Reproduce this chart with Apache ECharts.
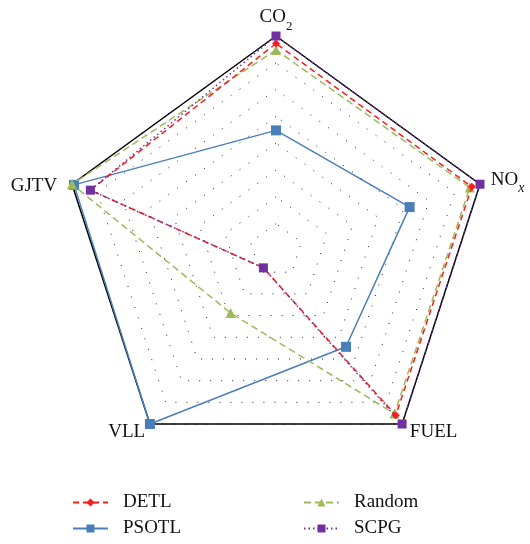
<!DOCTYPE html>
<html>
<head>
<meta charset="utf-8">
<script src="https://cdn.jsdelivr.net/npm/echarts@6/dist/echarts.min.js"></script>
<style>html,body{margin:0;padding:0;background:#fff;}#c{width:530px;height:544px;}</style>
</head>
<body>
<div id="c"></div>
<script>
// Indicators in ECharts order (counter-clockwise from top)
const indicators = ['CO2', 'GJTV', 'VLL', 'FUEL', 'NOx'];
const seriesNames = ['DETL', 'PSOTL', 'Random', 'SCPG'];
// values in order: CO2, GJTV, VLL, FUEL, NOx
const detl   = [0.965, 0.91, 0.10, 0.95, 0.96];
const psotl  = [0.56, 0.99, 1.00, 0.555, 0.655];
const random = [0.935, 1.00, 0.36, 0.94, 0.95];
const scpg   = [1.00, 0.91, 0.10, 1.00, 1.00];

const serif = '"Liberation Serif", "DejaVu Serif", serif';
const chart = echarts.init(document.getElementById('c'), null, {renderer: 'canvas'});

const base = {fontFamily: serif, fontSize: 19, color: '#111'};
const nameRich = {
  n: Object.assign({}, base, {verticalAlign: 'bottom', padding: [0, 0, 6, 0]}),
  s: {fontFamily: serif, fontSize: 13, color: '#111', verticalAlign: 'bottom'},
  si: {fontFamily: serif, fontSize: 14, fontStyle: 'italic', color: '#111', verticalAlign: 'bottom'},
  nl: Object.assign({}, base, {verticalAlign: 'bottom', padding: [0, 0, 6, 8]}),
  g: Object.assign({}, base, {padding: [6, 12, 0, 0]}),
  bv: Object.assign({}, base, {padding: [11, 3, 0, 0]}),
  bf: Object.assign({}, base, {padding: [11, 0, 0, 6]})
};
function fmtName(v) {
  if (v === 'CO2') return '{n|CO}{s|2}';
  if (v === 'NOx') return '{nl|NO}{si|x}';
  if (v === 'GJTV') return '{g|GJTV}';
  if (v === 'VLL') return '{bv|VLL}';
  return '{bf|FUEL}';
}

const center = [276, 250.5];
const radius = 214.5;

const styles = {
  DETL:   {color: '#ff1a1a', type: [6, 4], symbol: 'diamond', size: 8, z: 4, data: detl},
  PSOTL:  {color: '#4a7ebb', type: 'solid', symbol: 'rect', size: 10, z: 2, data: psotl},
  Random: {color: '#9bbb59', type: [7, 4], symbol: 'triangle', size: 10, z: 3, data: random},
  SCPG:   {color: '#7030a0', type: [1.5, 3], symbol: 'rect', size: 9, z: 5, data: scpg}
};

// hidden line series used only for legend icons (line + marker)
const legendSeries = seriesNames.map(n => ({
  type: 'line', name: n, data: [], xAxisIndex: 0, yAxisIndex: 0,
  symbol: styles[n].symbol, symbolSize: styles[n].size,
  lineStyle: {color: styles[n].color, type: styles[n].type, width: 1.5},
  itemStyle: {color: styles[n].color}
}));
const radarSeries = ['PSOTL', 'Random', 'DETL', 'SCPG'].map(n => ({
  type: 'radar', name: n, radarIndex: 0, z: styles[n].z,
  symbol: styles[n].symbol, symbolSize: styles[n].size,
  lineStyle: {color: styles[n].color, type: styles[n].type, width: 1.5},
  itemStyle: {color: styles[n].color},
  data: [{value: styles[n].data, name: n}]
}));

const legendPos = {DETL: [72, 493], PSOTL: [72, 519], Random: [303, 493], SCPG: [303, 519]};

chart.setOption({
  animation: false,
  grid: {left: 0, top: 0, width: 1, height: 1, show: false},
  xAxis: {show: false, type: 'value'},
  yAxis: {show: false, type: 'value'},
  radar: [
    {
      center: center, radius: radius, startAngle: 90, shape: 'polygon', splitNumber: 8,
      indicator: indicators.map(n => ({name: n, min: 0, max: 1})),
      axisName: {formatter: fmtName, rich: nameRich, color: '#111', fontFamily: serif, fontSize: 19},
      nameGap: 3,
      axisLine: {show: false}, axisTick: {show: false}, axisLabel: {show: false},
      splitArea: {show: false},
      splitLine: {lineStyle: {color: '#222', type: [1, 10], width: 1}}
    },
    {
      center: center, radius: radius, startAngle: 90, shape: 'polygon', splitNumber: 1,
      indicator: indicators.map(n => ({name: '', min: 0, max: 1})),
      axisName: {show: false},
      axisLine: {show: false}, axisTick: {show: false}, axisLabel: {show: false},
      splitArea: {show: false},
      splitLine: {lineStyle: {color: '#000', type: 'solid', width: 1.5}}
    }
  ],
  legend: seriesNames.map(n => ({
    data: [n], orient: 'horizontal', left: legendPos[n][0], top: legendPos[n][1],
    padding: 0, itemWidth: 35, itemHeight: 10,
    textStyle: {fontFamily: serif, fontSize: 19, color: '#111', padding: [0, 0, 0, 10]}
  })),
  series: legendSeries.concat(radarSeries)
});
</script>
</body>
</html>
